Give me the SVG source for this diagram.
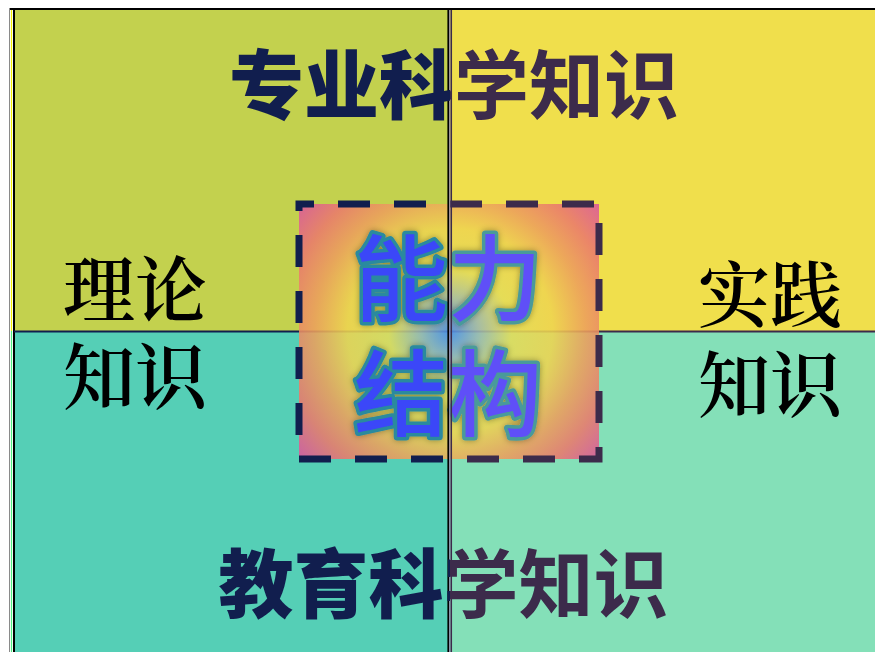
<svg xmlns="http://www.w3.org/2000/svg" width="875" height="652" viewBox="0 0 875 652">
<style>
  .cjk { font-family: "Noto Sans CJK SC", "Noto Sans", sans-serif; }
  .serif { font-family: "Noto Serif CJK SC", "Noto Sans CJK SC", serif; font-weight: 600; fill: #000; }
  .head { font-size: 75px; text-anchor: middle; }
  .side { font-size: 72px; text-anchor: middle; }
  .core { font-size: 94px; text-anchor: middle; font-weight: 500; stroke-width: 7; paint-order: stroke; stroke-linejoin: round; }
  .dash { fill: none; stroke-width: 7; stroke-dasharray: 32 24; stroke-dashoffset: 17; }
</style>
<defs>
  <clipPath id="clipL"><rect x="0" y="0" width="450" height="652"/></clipPath>
  <clipPath id="clipR"><rect x="450" y="0" width="425" height="652"/></clipPath>
  <radialGradient id="coreGrad" gradientUnits="userSpaceOnUse" cx="450" cy="331" r="205">
    <stop offset="0" stop-color="#4C8CEA"/>
    <stop offset="0.14" stop-color="#9CB8B0"/>
    <stop offset="0.3" stop-color="#E4DC58"/>
    <stop offset="0.5" stop-color="#EED450"/>
    <stop offset="0.66" stop-color="#ECA05C"/>
    <stop offset="0.8" stop-color="#EA7A6C"/>
    <stop offset="1" stop-color="#D64CAA"/>
  </radialGradient>
  <filter id="glow" x="-20%" y="-20%" width="140%" height="140%">
    <feDropShadow dx="0" dy="0" stdDeviation="3" flood-color="#000" flood-opacity="0.35"/>
  </filter>
</defs>

<g id="quadrants">
  <rect id="q-tl" x="15" y="10" width="435" height="321" fill="#C3D14E"/>
  <rect id="q-tr" x="450" y="10" width="425" height="321" fill="#F0DF4C"/>
  <rect id="q-bl" x="15" y="331" width="435" height="321" fill="#55CFB6"/>
  <rect id="q-br" x="450" y="331" width="425" height="321" fill="#84E0B8"/>
</g>

<g id="frame">
  <line x1="9.5" y1="8" x2="9.5" y2="652" stroke="#8a8a8a" stroke-width="1"/>
  <line x1="11.5" y1="10" x2="11.5" y2="331" stroke="#F2F000" stroke-width="1.2"/>
  <line x1="11.5" y1="331" x2="11.5" y2="652" stroke="#50EE80" stroke-width="1.2"/>
  <line x1="14" y1="8" x2="14" y2="652" stroke="#000" stroke-width="2"/>
  <line x1="10" y1="9" x2="875" y2="9" stroke="#000" stroke-width="2"/>
  <line x1="14" y1="331.5" x2="450" y2="331.5" stroke="#111E4E" stroke-width="2"/>
  <line x1="450" y1="331.5" x2="875" y2="331.5" stroke="#3C2B4B" stroke-width="2"/>
</g>

<g id="core">
  <rect x="299" y="204" width="300" height="255" fill="url(#coreGrad)" opacity="0.88"/>
  <rect class="dash" x="299" y="204" width="300" height="255" stroke="#111E4E" clip-path="url(#clipL)"/>
  <rect class="dash" x="299" y="204" width="300" height="255" stroke="#3C2B4B" clip-path="url(#clipR)"/>
  <g filter="url(#glow)">
    <g clip-path="url(#clipL)">
      <text class="cjk core" x="448" y="314" fill="#3A46F8" stroke="#2A8A9E">能力</text>
      <text class="cjk core" x="448" y="429" fill="#3A46F8" stroke="#2A8A9E">结构</text>
    </g>
    <g clip-path="url(#clipR)">
      <text class="cjk core" x="448" y="314" fill="#5E50F8" stroke="#4A9A9A">能力</text>
      <text class="cjk core" x="448" y="429" fill="#5E50F8" stroke="#4A9A9A">结构</text>
    </g>
  </g>
</g>

<g id="divider">
  <line x1="448.3" y1="8" x2="448.3" y2="652" stroke="#000" stroke-width="1.8"/>
  <line x1="449.8" y1="10" x2="449.8" y2="652" stroke="#9A8FB0" stroke-width="1.2"/>
  <line x1="451.3" y1="10" x2="451.3" y2="652" stroke="#3C2B4B" stroke-width="1.5"/>
</g>

<g id="top-title">
  <text class="cjk head" x="454" y="113" font-weight="900" fill="#111E4E" clip-path="url(#clipL)">专业科学知识</text>
  <text class="cjk head" x="454" y="113" font-weight="700" fill="#3C2B4B" clip-path="url(#clipR)">专业科学知识</text>
</g>

<g id="bottom-title">
  <text class="cjk head" x="443.5" y="612" font-weight="900" fill="#111E4E" clip-path="url(#clipL)">教育科学知识</text>
  <text class="cjk head" x="443.5" y="612" font-weight="700" fill="#3C2B4B" clip-path="url(#clipR)">教育科学知识</text>
</g>

<g id="left-label">
  <text class="serif side" x="135" y="316">理论</text>
  <text class="serif side" x="135" y="403">知识</text>
</g>

<g id="right-label">
  <text class="serif side" x="770" y="321">实践</text>
  <text class="serif side" x="770" y="411">知识</text>
</g>
</svg>
